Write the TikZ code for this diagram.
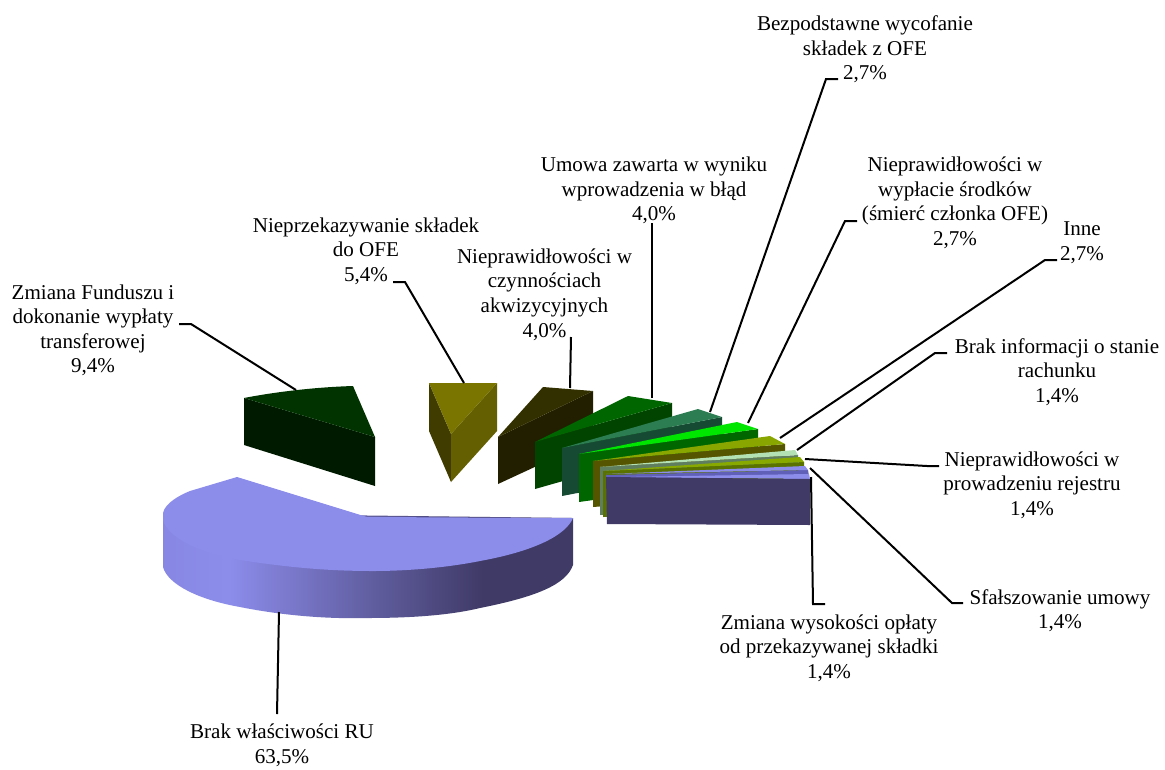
\documentclass[tikz,border=0pt]{standalone}
\usepackage{fontspec}
\setmainfont{Liberation Serif}
\definecolor{pale}{HTML}{8C8CEB}
\definecolor{palemid}{HTML}{6060B8}
\definecolor{dusk}{HTML}{3F3A66}
\definecolor{forestside}{HTML}{001A00}
\definecolor{foresttop}{HTML}{003300}
\definecolor{oliveleft}{HTML}{403C00}
\definecolor{oliveright}{HTML}{645F00}
\definecolor{olivetop}{HTML}{7A7500}
\definecolor{brownside}{HTML}{221F00}
\definecolor{browntop}{HTML}{333000}
\definecolor{greenside}{HTML}{004400}
\definecolor{greentop}{HTML}{006600}
\definecolor{tealside}{HTML}{174A33}
\definecolor{tealtop}{HTML}{2C7D52}
\definecolor{brightside}{HTML}{006600}
\definecolor{brighttop}{HTML}{00E600}
\definecolor{yellowside}{HTML}{555500}
\definecolor{yellowtop}{HTML}{88A500}
\definecolor{mintside}{HTML}{5F7D5F}
\definecolor{minttop}{HTML}{B4E1B4}
\definecolor{limeside}{HTML}{5A7300}
\definecolor{limetop}{HTML}{88AA00}
\pgfdeclarehorizontalshading{sideshade}{100bp}{color(0bp)=(pale); color(25bp)=(pale!94!dusk); color(33bp)=(pale); color(64bp)=(dusk); color(100bp)=(dusk)}
\tikzset{
  lab/.style={align=center,font=\fontsize{15.8}{18.4}\selectfont,inner sep=0pt,text=black},
  leader/.style={draw=black,line width=1.5pt,line join=miter}
}
\begin{document}
\begin{tikzpicture}[x=0.75pt,y=-0.75pt]
\useasboundingbox (0,0) rectangle (1165,769);
\fill[white] (0,0) rectangle (1165,769);

% large slice
\shade[shading=sideshade]
  (163,513) -- (163,567) .. controls (168,585) and (200,600) .. (240,607)
  .. controls (285,616) and (330,619) .. (367,618)
  .. controls (420,618) and (455,614) .. (480,608)
  .. controls (535,597) and (566,585) .. (573,565) -- (573,518) -- cycle;
\fill[pale] (237,477) -- (367,517) -- (573,518)
  .. controls (566,535) and (535,551) .. (480,561)
  .. controls (445,568) and (405,571) .. (373,571)
  .. controls (320,571) and (280,566) .. (240,560)
  .. controls (200,553) and (168,538) .. (163,520)
  -- (163,513) .. controls (165,503) and (180,495) .. (190,491) -- cycle;

% dark green slice
\fill[forestside] (244,398) -- (375,437) -- (375,486) -- (244,445) -- cycle;
\fill[foresttop] (244,398) .. controls (280,391) and (320,387) .. (353,386) -- (375,437) -- cycle;

% olive slice
\fill[oliveleft] (429,383) -- (451,434) -- (451,482) -- (429,431) -- cycle;
\fill[oliveright] (497,383) -- (451,434) -- (451,482) -- (497,431) -- cycle;
\fill[olivetop] (429,383) -- (497,383) -- (451,434) -- cycle;

% dark brown slice
\fill[brownside] (498,437) -- (593,391) -- (593,440) -- (498,484) -- cycle;
\fill[browntop] (498,437) -- (543,387) -- (593,391) -- cycle;

% green slice
\fill[greenside] (535,442) -- (672,403) -- (672,450) -- (535,489) -- cycle;
\fill[greentop] (535,442) -- (628,396) -- (672,403) -- cycle;

% teal slice
\fill[tealside] (562,448) -- (722,417) -- (722,465) -- (562,496) -- cycle;
\fill[tealtop] (562,448) -- (698,409) -- (722,417) -- cycle;

% bright green slice
\fill[brightside] (579,454) -- (758,429) -- (758,477) -- (579,502) -- cycle;
\fill[brighttop] (579,454) -- (737,422) -- (758,429) -- cycle;

% yellow-green slice
\fill[yellowside] (593,461) -- (785,444) -- (785,492) -- (593,507) -- cycle;
\fill[yellowtop] (593,461) -- (770,436) -- (785,444) -- cycle;

% pale green slice
\fill[mintside] (600,467) -- (798,455) -- (798,500) -- (600,515) -- cycle;
\fill[minttop] (600,467) -- (795,450) -- (798,455) -- cycle;

% second yellow-green slice
\fill[limeside] (603,471) -- (804,462) -- (804,510) -- (603,517) -- cycle;
\fill[limetop] (603,471) -- (800,457) -- (804,462) -- cycle;

% blue sliver slices
\fill[palemid] (606,475) -- (808,470) -- (809,476) -- (606,479) -- cycle;
\fill[pale] (606,474) -- (805,466) -- (808,470) -- cycle;
\fill[pale] (620,477) -- (809,474) -- (810,479) -- (606,477) -- cycle;
\fill[dusk] (606,477) -- (810,479) -- (810,525) -- (607,524) -- cycle;

% labels
\node[lab] (bez) at (865,49.5) {Bezpodstawne wycofanie\\składek z OFE\\2,7\%};
\node[lab] (umo) at (654,190.5) {Umowa zawarta w wyniku\\wprowadzenia w błąd\\4,0\%};
\node[lab] (wyp) at (955,203) {Nieprawidłowości w\\wypłacie środków\\(śmierć członka OFE)\\2,7\%};
\node[lab] (inn) at (1082,242.5) {Inne\\2,7\%};
\node[lab] (bra) at (1057,372) {Brak informacji o stanie\\rachunku\\1,4\%};
\node[lab] (rej) at (1032,485) {Nieprawidłowości w\\prowadzeniu rejestru\\1,4\%};
\node[lab] (sfa) at (1060,610.5) {Sfałszowanie umowy\\1,4\%};
\node[lab] (wys) at (829,648) {Zmiana wysokości opłaty\\od przekazywanej składki\\1,4\%};
\node[lab] (wla) at (282,745.5) {Brak właściwości RU\\63,5\%};
\node[lab] (fun) at (93,330.5) {Zmiana Funduszu i\\dokonanie wypłaty\\transferowej\\9,4\%};
\node[lab] (skl) at (366,251) {Nieprzekazywanie składek\\do OFE\\5,4\%};
\node[lab] (akw) at (544.5,294.5) {Nieprawidłowości w\\czynnościach\\akwizycyjnych\\4,0\%};

% leader points
\coordinate (funa) at (296,390); \coordinate (funb) at (191,324); \coordinate (func) at (179,324);
\coordinate (skla) at (464,383); \coordinate (sklb) at (405,282); \coordinate (sklc) at (393,282);
\coordinate (akwa) at (570,388); \coordinate (akwb) at (571,337);
\coordinate (umoa) at (652,398); \coordinate (umob) at (652,223);
\coordinate (beza) at (710,412); \coordinate (bezb) at (826,79); \coordinate (bezc) at (838,79);
\coordinate (wypa) at (748,423); \coordinate (wypb) at (845,221); \coordinate (wypc) at (857,221);
\coordinate (inna) at (780,438); \coordinate (innb) at (1045,260); \coordinate (innc) at (1057,260);
\coordinate (braa) at (797,450); \coordinate (brab) at (935,353); \coordinate (brac) at (947,353);
\coordinate (reja) at (805,459); \coordinate (rejb) at (927,466); \coordinate (rejc) at (939,466);
\coordinate (sfaa) at (810,468); \coordinate (sfab) at (952,603); \coordinate (sfac) at (963,603);
\coordinate (wysa) at (811,477); \coordinate (wysb) at (813,604); \coordinate (wysc) at (825,604);
\coordinate (wlaa) at (279,612); \coordinate (wlab) at (277,714);

\draw[leader] (funa) -- (funb) -- (func);
\draw[leader] (skla) -- (sklb) -- (sklc);
\draw[leader] (akwa) -- (akwb);
\draw[leader] (umoa) -- (umob);
\draw[leader] (beza) -- (bezb) -- (bezc);
\draw[leader] (wypa) -- (wypb) -- (wypc);
\draw[leader] (inna) -- (innb) -- (innc);
\draw[leader] (braa) -- (brab) -- (brac);
\draw[leader] (reja) -- (rejb) -- (rejc);
\draw[leader] (sfaa) -- (sfab) -- (sfac);
\draw[leader] (wysa) -- (wysb) -- (wysc);
\draw[leader] (wlaa) -- (wlab);
\end{tikzpicture}
\end{document}
